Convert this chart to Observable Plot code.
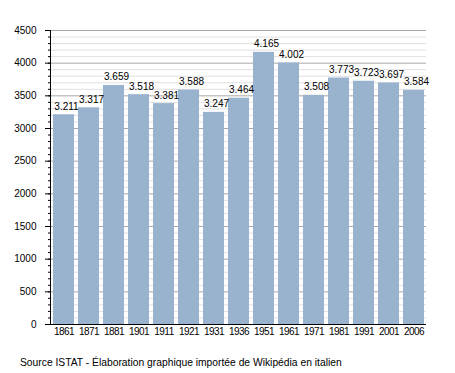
<!DOCTYPE html>
<html><head><meta charset="utf-8">
<script src="https://cdn.jsdelivr.net/npm/d3@7"></script>
<script src="https://cdn.jsdelivr.net/npm/@observablehq/plot@0.6"></script>
<style>
body{margin:0;background:#fff;font-family:"Liberation Sans",Arial,sans-serif}
#cap{font-size:10.3px;line-height:13px;margin:11px 0 0 20px;color:#000}
.xax text{letter-spacing:-0.5px}
</style>
</head><body>
<div id="chart"></div>
<div id="cap">Source ISTAT - Élaboration graphique importée de Wikipédia en italien</div>
<script>
const years = ["1861","1871","1881","1901","1911","1921","1931","1936","1951","1961","1971","1981","1991","2001","2006"];
const population = [3211,3317,3659,3518,3381,3588,3247,3464,4165,4002,3508,3773,3723,3697,3584];
const valueLabels = ["3.211","3.317","3.659","3.518","3.381","3.588","3.247","3.464","4.165","4.002","3.508","3.773","3.723","3.697","3.584"];
const yTicks = [0,500,1000,1500,2000,2500,3000,3500,4000,4500];
const minorTicks = d3.range(0, 4501, 100);

const data = years.map((y, i) => ({year: y, pop: population[i], label: valueLabels[i]}));

const chart = Plot.plot({
  width: 455, height: 345,
  marginTop: 30, marginBottom: 21, marginLeft: 50, marginRight: 29,
  style: {fontFamily: "Liberation Sans, Arial, sans-serif", fontSize: "10px", background: "white", color: "black"},
  x: {domain: years, paddingInner: 0.18, paddingOuter: 0.04, label: null},
  y: {domain: [0, 4500], label: null},
  marks: [
    Plot.ruleY(minorTicks.filter(d => d % 500 !== 0), {stroke: "#e0e0e0", strokeWidth: 1}),
    Plot.ruleY(yTicks, {stroke: "#a8a8a8", strokeWidth: 1}),
    Plot.barY(data, {x: "year", y: "pop", fill: "#99b3cf"}),
    Plot.text(data, {x: "year", y: "pop", text: "label", dy: -5, dx: 2.5, lineAnchor: "bottom", fontSize: 10, fill: "black"}),
    Plot.axisY(minorTicks, {tickSize: 2, tickFormat: () => "", label: null, stroke: "black"}),
    Plot.axisY(yTicks, {tickSize: 5, tickPadding: 9, tickFormat: "d", label: null, stroke: "black", fontSize: 10}),
    Plot.axisX({tickSize: 0, tickPadding: 3, label: null, fontSize: 10, className: "xax"}),
    Plot.frame({anchor: "left", stroke: "black"}),
    Plot.ruleY([0], {stroke: "black"})
  ]
});
document.getElementById("chart").appendChild(chart);
</script>
</body></html>
